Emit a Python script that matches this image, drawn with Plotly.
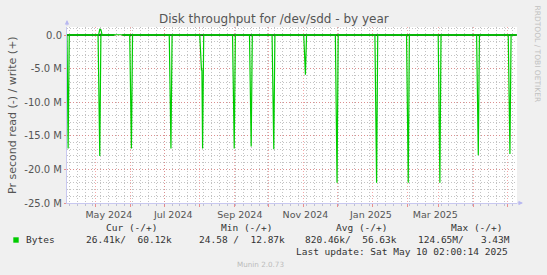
import plotly.graph_objects as go
from datetime import datetime, timedelta

# ---------------- data ----------------
# read (drawn negative), values in MB/s, sparse key points of the yearly rrd
spike_dates = ["2024-04-07", "2024-05-05", "2024-06-02", "2024-07-07", "2024-08-04",
               "2024-09-01", "2024-09-16", "2024-10-06", "2024-11-03", "2024-12-01",
               "2025-01-05", "2025-02-02", "2025-03-02", "2025-04-05", "2025-05-03"]
spike_read_M = [16.9, 18.0, 16.9, 16.9, 16.9,
                16.9, 16.6, 17.0, 5.9, 22.0,
                22.0, 22.0, 22.0, 17.9, 17.7]
# shoulder before the August spike
shoulder_date = "2024-08-03"
shoulder_read_M = 5.2
# missing data interval
gap_start, gap_end = "2024-05-19", "2024-05-25"
# write (drawn positive)
write_dates = ["2024-04-06", "2024-05-04", "2024-05-05", "2024-05-06", "2024-05-07",
               "2024-05-18", "2024-05-25", "2025-05-09"]
write_M = [0.05, 0.05, 0.85, 0.8, 0.05, 0.05, 0.05, 0.05]
range_start, range_end = "2024-04-06", "2025-05-09 06:00"

y_ticks = [-25e6, -20e6, -15e6, -10e6, -5e6, 0]
y_ticktext = ["-25.0 M", "-20.0 M", "-15.0 M", "-10.0 M", "-5.0 M", "0.0"]
month_grid = ["2024-05-01", "2024-06-01", "2024-07-01", "2024-08-01", "2024-09-01",
              "2024-10-01", "2024-11-01", "2024-12-01", "2025-01-01", "2025-02-01",
              "2025-03-01", "2025-04-01", "2025-05-01"]
label_dates = ["2024-05-13", "2024-07-09", "2024-09-06", "2024-11-03", "2024-12-31", "2025-02-26"]
label_text = ["May 2024", "Jul 2024", "Sep 2024", "Nov 2024", "Jan 2025", "Mar 2025"]

legend_headers = ["Cur (-/+)", "Min (-/+)", "Avg (-/+)", "Max (-/+)"]
legend_values = ["26.41k/  60.12k", "24.58 /  12.87k", "820.46k/  56.63k", "124.65M/   3.43M"]

# ---------------- build read series ----------------
def d(s):
    return datetime.strptime(s, "%Y-%m-%d")

pts = [(d(range_start), 0.0), (d(range_end[:10]), 0.0)]
for ds, v in zip(spike_dates, spike_read_M):
    t = d(ds)
    if ds == "2024-08-04":
        pts.append((d(shoulder_date) - timedelta(days=1.5), 0.0))
        pts.append((d(shoulder_date), -shoulder_read_M * 1e6))
        pts.append((d(shoulder_date) + timedelta(days=0.4), -shoulder_read_M * 1e6))
    else:
        pts.append((t - timedelta(days=1.5), 0.0))
    pts.append((t, -v * 1e6))
    pts.append((t + timedelta(days=1), 0.0))
pts.append((d(gap_start) - timedelta(days=1), 0.0))
pts.append((d(gap_end), 0.0))
pts.sort(key=lambda p: p[0])
rx, ry = [], []
for t, v in pts:
    if t == d(gap_end):
        rx.append(d(gap_start) + timedelta(days=2)); ry.append(None)
    rx.append(t); ry.append(v)
zx = rx
zy = [0 if v is not None else None for v in ry]

GREEN = "#00CC00"
fig = go.Figure()
fig.add_trace(go.Scatter(x=zx, y=zy, mode="lines", line=dict(color="#000000", width=1.6),
                         hoverinfo="skip", showlegend=False))
fig.add_trace(go.Scatter(x=rx, y=ry, mode="lines", line=dict(color=GREEN, width=1.2),
                         showlegend=False))
fig.add_trace(go.Scatter(x=write_dates, y=[v * 1e6 for v in write_M], mode="lines",
                         line=dict(color=GREEN, width=1.2), showlegend=False))
# invisible trace to activate xaxis2
fig.add_trace(go.Scatter(x=[range_start], y=[None], xaxis="x2", showlegend=False, hoverinfo="skip"))

L, R, T, B = 67, 517, 27, 203
def px(x):
    return (x - L) / (R - L)
def py(y):
    return (B - y) / (B - T)

MINOR = "rgba(175,175,175,0.75)"
MAJOR = "rgba(235,110,110,0.6)"
fig.update_layout(
    width=547, height=275,
    margin=dict(l=L, r=547 - R, t=T, b=275 - B),
    paper_bgcolor="#F0F0F0", plot_bgcolor="#FFFFFF",
    font=dict(family="DejaVu Sans", color="#555555"),
    xaxis=dict(type="date", range=[range_start, range_end],
               tickvals=month_grid, showticklabels=False,
               showgrid=True, gridcolor=MAJOR, griddash="1px,2px", gridwidth=1,
               ticks="outside", ticklen=3, tickcolor="rgba(230,120,120,0.8)",
               minor=dict(dtick=7 * 86400000, tick0="2024-04-08", showgrid=True,
                          gridcolor=MINOR, griddash="1px,2px",
                          ticks="outside", ticklen=2, tickcolor="rgba(170,170,200,0.7)"),
               showline=True, linecolor="#C8C8F0", linewidth=1, zeroline=False),
    xaxis2=dict(type="date", range=[range_start, range_end], overlaying="x", anchor="y",
                side="bottom", tickvals=label_dates, ticktext=label_text, showgrid=False,
                ticks="outside", ticklen=3, tickcolor="rgba(0,0,0,0)",
                tickfont=dict(size=9.5, color="#555555"), showline=False, zeroline=False),
    yaxis=dict(range=[-25e6, 1.2e6], tickvals=y_ticks, ticktext=y_ticktext,
               tickfont=dict(size=10, color="#555555"),
               showgrid=True, gridcolor=MAJOR, griddash="1px,2px",
               ticks="outside", ticklen=2, tickcolor="rgba(230,120,120,0.8)",
               minor=dict(dtick=1e6, tick0=0, showgrid=True, gridcolor=MINOR,
                          griddash="1px,2px"),
               showline=True, linecolor="#C8C8F0", linewidth=1, zeroline=False),
    hovermode=False,
)

ann = []
ann.append(dict(text="Disk throughput for /dev/sdd - by year", x=px(273.5), y=py(19),
                xref="paper", yref="paper", showarrow=False, xanchor="center", yanchor="middle",
                font=dict(size=12, color="#555555")))
ann.append(dict(text="Pr second read (-) / write (+)", x=px(12), y=py(115), textangle=-90,
                xref="paper", yref="paper", showarrow=False, xanchor="center", yanchor="middle",
                font=dict(size=11, color="#555555")))
ann.append(dict(text="RRDTOOL / TOBI OETIKER", x=px(537), y=py(53.5), textangle=90,
                xref="paper", yref="paper", showarrow=False, xanchor="center", yanchor="middle",
                font=dict(size=7.5, color="#C0C0C0")))
ann.append(dict(text="Munin 2.0.73", x=px(260.7), y=py(264), xref="paper", yref="paper",
                showarrow=False, xanchor="center", yanchor="middle",
                font=dict(size=7.2, color="#BBBBBB")))
mono = dict(family="DejaVu Sans Mono", size=9.5, color="#333333")
for h, cx in zip(legend_headers, [131.7, 246.7, 361.7, 476.7]):
    ann.append(dict(text=h.replace(" ", "\u00a0"), x=px(cx), y=py(227.3), xref="paper", yref="paper",
                    showarrow=False, xanchor="center", yanchor="middle", font=mono, borderpad=0))
ann.append(dict(text="Bytes", x=px(25), y=py(239.7), xref="paper", yref="paper",
                showarrow=False, xanchor="left", yanchor="middle", font=mono, borderpad=0))
for v, lx in zip(legend_values, [85, 198, 304, 416.7]):
    ann.append(dict(text=v.replace(" ", "\u00a0"), x=px(lx), y=py(239.7), xref="paper", yref="paper",
                    showarrow=False, xanchor="left", yanchor="middle", font=mono, borderpad=0))
ann.append(dict(text="Last update: Sat May 10 02:00:14 2025".replace(" ", "\u00a0"), x=px(509), y=py(251.7),
                xref="paper", yref="paper", showarrow=False, xanchor="right", yanchor="middle",
                font=mono, borderpad=0))
# axis arrows
ann.append(dict(x=px(523), y=py(203), xref="paper", yref="paper", ax=-7, ay=0, showarrow=True,
                arrowhead=2, arrowsize=0.9, arrowwidth=1, arrowcolor="#B8B8F0", text=""))
ann.append(dict(x=px(67), y=py(20), xref="paper", yref="paper", ax=0, ay=7, showarrow=True,
                arrowhead=2, arrowsize=0.9, arrowwidth=1, arrowcolor="#B8B8F0", text=""))
fig.update_layout(annotations=ann)

fig.add_shape(type="rect", xref="paper", yref="paper", x0=px(13.3), x1=px(18.7),
              y0=py(242.7), y1=py(237.3), fillcolor=GREEN, line=dict(width=0))

fig.write_html("out.html")
